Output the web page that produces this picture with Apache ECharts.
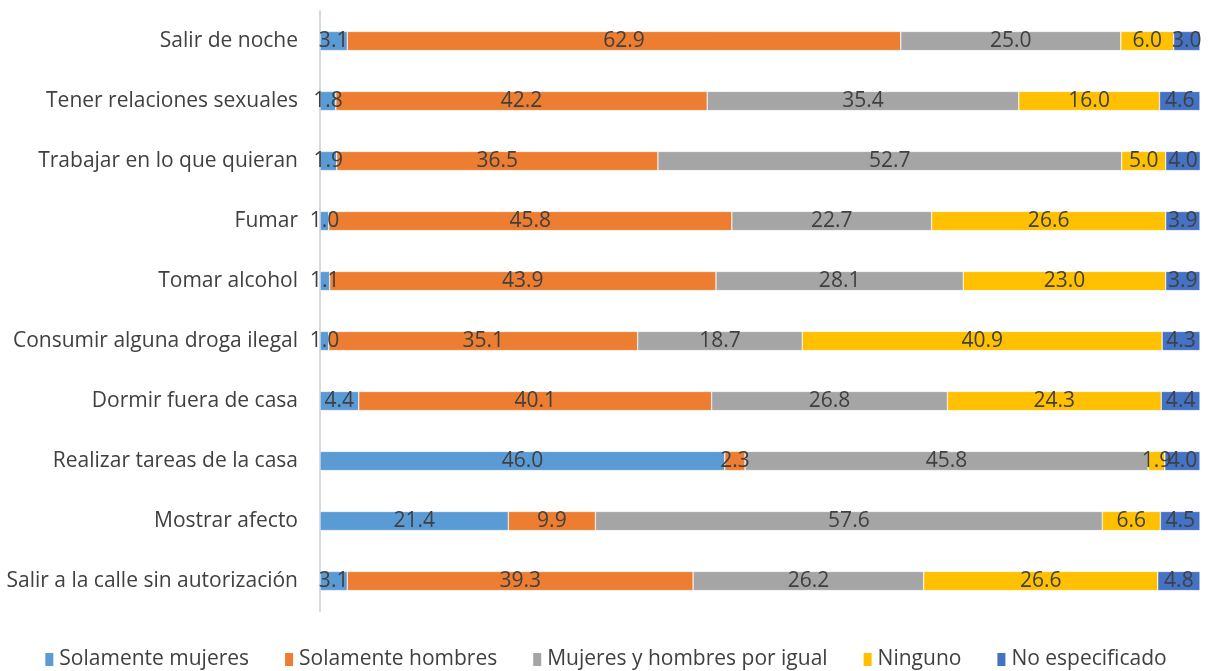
<!DOCTYPE html>
<html><head><meta charset="utf-8">
<script src="https://cdn.jsdelivr.net/npm/echarts@6/dist/echarts.min.js"></script>
<style>html,body{margin:0;padding:0;background:#fff}#c{width:1210px;height:671px}</style>
</head><body><div id="c"></div>
<script>
const categories = ["Salir de noche","Tener relaciones sexuales","Trabajar en lo que quieran","Fumar","Tomar alcohol","Consumir alguna droga ilegal","Dormir fuera de casa","Realizar tareas de la casa","Mostrar afecto","Salir a la calle sin autorización"];
const seriesNames = ["Solamente mujeres","Solamente hombres","Mujeres y hombres por igual","Ninguno","No especificado"];
const solamenteMujeres = [3.1,1.8,1.9,1.0,1.1,1.0,4.4,46.0,21.4,3.1];
const solamenteHombres = [62.9,42.2,36.5,45.8,43.9,35.1,40.1,2.3,9.9,39.3];
const ambos = [25.0,35.4,52.7,22.7,28.1,18.7,26.8,45.8,57.6,26.2];
const ninguno = [6.0,16.0,5.0,26.6,23.0,40.9,24.3,1.9,6.6,26.6];
const noEspecificado = [3.0,4.6,4.0,3.9,3.9,4.3,4.4,4.0,4.5,4.8];
const values = [solamenteMujeres,solamenteHombres,ambos,ninguno,noEspecificado];
const colors = ["#5B9BD5","#ED7D31","#A5A5A5","#FFC000","#4472C4"];
const FONT = "'Open Sans',sans-serif";
const chart = echarts.init(document.getElementById('c'));
chart.setOption({
  animation:false,
  grid:{left:320,right:10,top:11,bottom:60},
  legend:{top:644,left:'center',itemWidth:10,itemHeight:15,itemGap:34,icon:'rect',
    textStyle:{fontFamily:FONT,fontSize:21,color:'#404040'}},
  xAxis:{type:'value',min:0,max:100,show:false},
  yAxis:{type:'category',data:categories,inverse:true,
    axisLine:{lineStyle:{color:'#D9D9D9',width:2}},axisTick:{show:false},
    axisLabel:{fontFamily:FONT,fontSize:21,color:'#404040',margin:22}},
  series: seriesNames.map((n,i)=>({
    name:n,type:'bar',stack:'t',data:values[i],barWidth:'32%',
    itemStyle:{color:colors[i],borderColor:'#fff',borderWidth:0.5},
    label:{show:true,position:'inside',formatter:p=>p.value.toFixed(1),
      fontFamily:FONT,fontSize:21,color:'#404040'}
  }))
});
</script></body></html>
